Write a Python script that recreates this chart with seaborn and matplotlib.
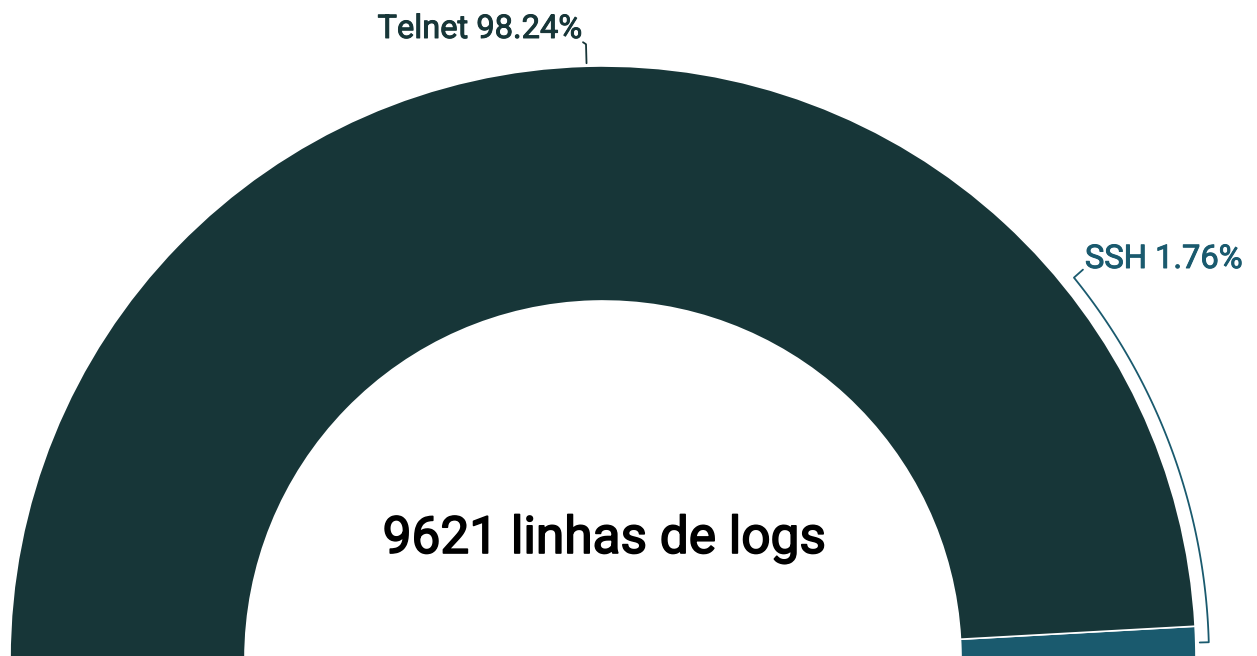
import numpy as np
import matplotlib
matplotlib.use("Agg")
import matplotlib.pyplot as plt
import matplotlib.patheffects as pe
import seaborn as sns

# data
protocols = ["SSH", "Telnet"]
shares = [1.76, 98.24]
total_lines = 9621
colors = ["#1a5a6e", "#173638"]

sns.set_theme(style="white")
plt.rcParams['font.family'] = ['Roboto', 'DejaVu Sans']

W, H = 1257, 656
fig = plt.figure(figsize=(W / 100, H / 100), dpi=100)
ax = fig.add_axes([0, 0, 1, 1])

cx, cy = 603, -3
r_out, ring = 593, 235

# half donut: the hidden wedge fills the lower half
vals = shares + [sum(shares)]
wedges, _ = ax.pie(vals, colors=colors + ["none"], startangle=0, counterclock=True,
                   radius=r_out, center=(cx, cy),
                   wedgeprops=dict(width=ring, edgecolor="white", linewidth=1.2))
wedges[-1].set_edgecolor("none")

ax.set_xlim(0, W)
ax.set_ylim(0, H)
ax.set_aspect("equal")
ax.axis("off")

# slice angles
edges = np.concatenate([[0], np.cumsum(shares)]) / 100 * 180
mids = (edges[:-1] + edges[1:]) / 2

def pt(r, deg):
    a = np.radians(deg)
    return cx + r * np.cos(a), cy + r * np.sin(a)

def heavier(c, w):
    return [pe.withStroke(linewidth=w, foreground=c)]

# Telnet leader
a_t = mids[1]
x0, y0 = pt(r_out + 3, a_t)
x1, y1 = pt(r_out + 22, a_t)
ax.plot([x0, x1, x1 - 3], [y0, y1, y1 + 2], color=colors[1], lw=1.3)
ax.text(x1 - 4, 618, f"{protocols[1]} {shares[1]:.2f}%", ha="right", va="baseline",
        fontsize=23.5, color=colors[1], path_effects=heavier(colors[1], 0.7))

# SSH bracket along the ring
a_s = mids[0]
r_b = 606
arc = np.linspace(a_s, 39, 100)
bx, by = pt(r_b, arc)
tx, ty = pt(r_b - 9, a_s)
ax.plot(np.concatenate([[tx], bx, [bx[-1] + 9]]),
        np.concatenate([[ty], by, [by[-1] + 8]]), color=colors[0], lw=1.3)
ax.text(bx[-1] + 11, 388, f"{protocols[0]} {shares[0]:.2f}%", ha="left", va="baseline",
        fontsize=23.5, color=colors[0], path_effects=heavier(colors[0], 0.7))

# centre label
ax.text(cx + 1, 103, f"{total_lines} linhas de logs", ha="center", va="baseline",
        fontsize=37, color="black", path_effects=heavier("black", 1.2))

fig.savefig("out.png", dpi=100)
